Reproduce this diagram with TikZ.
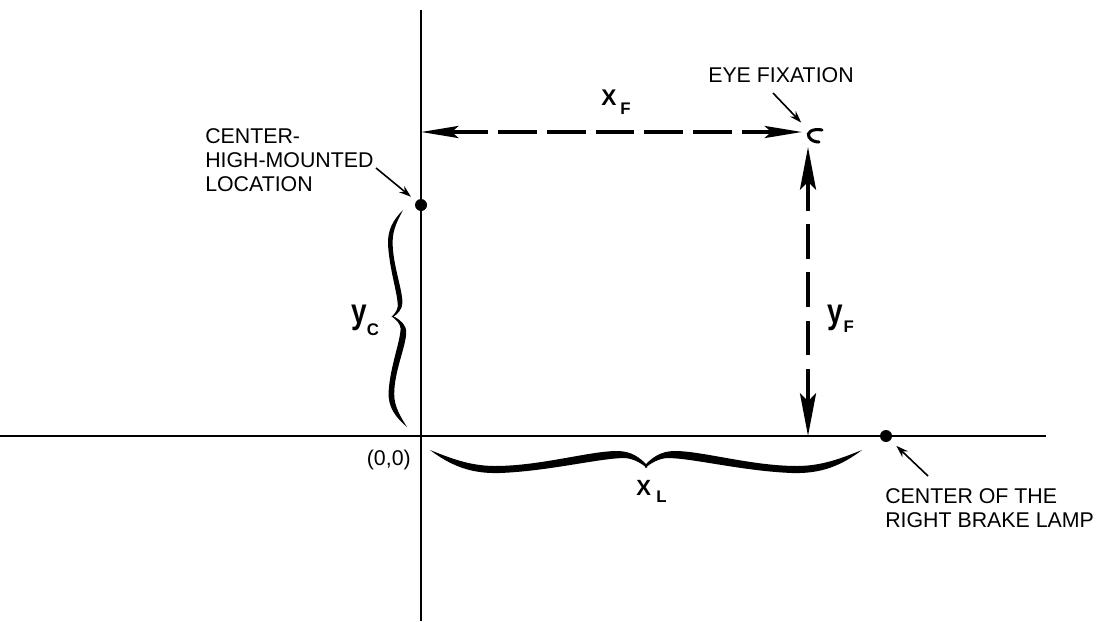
\documentclass[tikz,border=0pt]{standalone}
\usepackage{fontspec}
\setmainfont{Liberation Sans}
\usetikzlibrary{arrows.meta}
\newcommand\halfbrace{%
  \fill (0,0) .. controls (0.092,0.75) and (0.184,1.2) .. (0.323,1.15)
    .. controls (0.553,1.05) and (0.783,0.4) .. (0.899,0.4)
    .. controls (0.945,0.45) and (0.977,0.7) .. (1,0.9)
    -- (1,0.75) .. controls (0.968,0.4) and (0.931,0.05) .. (0.862,0.05)
    .. controls (0.737,0.05) and (0.507,0.8) .. (0.3,0.8)
    .. controls (0.184,0.8) and (0.092,0.4) .. (0,0) -- cycle;}
\newcommand\biglbl[1]{\fontsize{#1}{#1}\selectfont}
\begin{document}
\begin{tikzpicture}[x=0.75pt,y=-0.75pt,
  axis/.style={line width=1.5pt},
  dot/.style={circle,fill=black,inner sep=0pt,minimum size=9pt},
  ptr/.style={line width=1.2pt,-{Stealth[length=9pt,width=6pt]}},
  dimh/.style={line width=3pt,dash pattern=on 29pt off 7.5pt,
    {Stealth[length=28pt,width=9pt,inset=5pt]}-{Stealth[length=28pt,width=9pt,inset=5pt]}},
  dimv/.style={line width=3pt,dash pattern=on 26pt off 10pt,
    {Stealth[length=32pt,width=12pt,inset=6pt]}-{Stealth[length=32pt,width=12pt,inset=6pt]}},
  lbl/.style={inner sep=0pt,font=\fontsize{16pt}{18pt}\selectfont,align=left},
  sym/.style={inner sep=0pt,anchor=base west,font=\bfseries},
]
\useasboundingbox (0,0) rectangle (1098,621);
% axes
\coordinate (ytop) at (421,10);
\coordinate (ybot) at (421,621);
\coordinate (xl) at (0,436);
\coordinate (xr) at (1046,436);
\coordinate (O) at (421,436);
\draw[axis] (ytop) -- (ybot);
\draw[axis] (xl) -- (xr);
% points
\node[dot] (chm) at (421,205) {};
\node[dot] (lamp) at (886,436) {};
\node[circle,inner sep=0pt,minimum size=13.5pt] (eye) at (814,136) {};
\draw[line width=2.3pt,line cap=round] (822,130) .. controls (812,128) and (806,133) .. (809,137)
  .. controls (811,141) and (816,142) .. (819,142);
% dimension arrows
\coordinate (xfA) at (421,132);
\coordinate (yfTop) at (808,147);
\coordinate (yfBot) at (808,436);
\draw[dimh,shorten >=2pt] (xfA) -- (xfA -| eye.west);
\draw[dimv] (yfBot) -- (yfTop);
% braces
\begin{scope}[shift={(430,450)},xscale=217,yscale=20]\halfbrace\end{scope}
\begin{scope}[shift={(862,450)},xscale=-217,yscale=20]\halfbrace\end{scope}
\begin{scope}[shift={(403,210)},x={(0pt,-80.25pt)},y={(-9.75pt,0pt)}]\halfbrace\end{scope}
\begin{scope}[shift={(407,427)},x={(0pt,82.5pt)},y={(-12pt,0pt)}]\halfbrace\end{scope}
% labels
\node[lbl,anchor=north west] (chmtxt) at (205,128) {CENTER-\\HIGH-MOUNTED\\LOCATION};
\node[lbl,anchor=north west] (eyetxt) at (708,67) {EYE FIXATION};
\node[lbl,anchor=north west] (lamptxt) at (885,488) {CENTER OF THE\\RIGHT BRAKE LAMP};
\node[lbl,anchor=base east] (origin) at (411,465) {(0,0)};
\coordinate (chmtail) at (376,168);
\coordinate (eyetail) at (773,93);
\coordinate (lamptail) at (928,476);
\draw[ptr,shorten >=5pt] (chmtail) -- (chm);
\draw[ptr,shorten >=7pt] (eyetail) -- (eye);
\draw[ptr,shorten >=6pt] (lamptail) -- (lamp);
% symbols
\node[sym] (xF) at (601,105) {\biglbl{17pt}X\hspace{3pt}\raisebox{-6.75pt}{\biglbl{12.6pt}F}};
\node[sym] (xL) at (636,495) {\biglbl{16.5pt}X\hspace{4pt}\raisebox{-5.25pt}{\biglbl{12.6pt}L}};
\node[sym] (yC) at (351,323) {\biglbl{21pt}\scalebox{1}[1.25]{y}\hspace{0pt}\raisebox{-9pt}{\biglbl{12.6pt}C}};
\node[sym] (yF) at (827,323) {\biglbl{21pt}\scalebox{1}[1.25]{y}\hspace{0.5pt}\raisebox{-6.75pt}{\biglbl{12.6pt}F}};
\end{tikzpicture}
\end{document}
